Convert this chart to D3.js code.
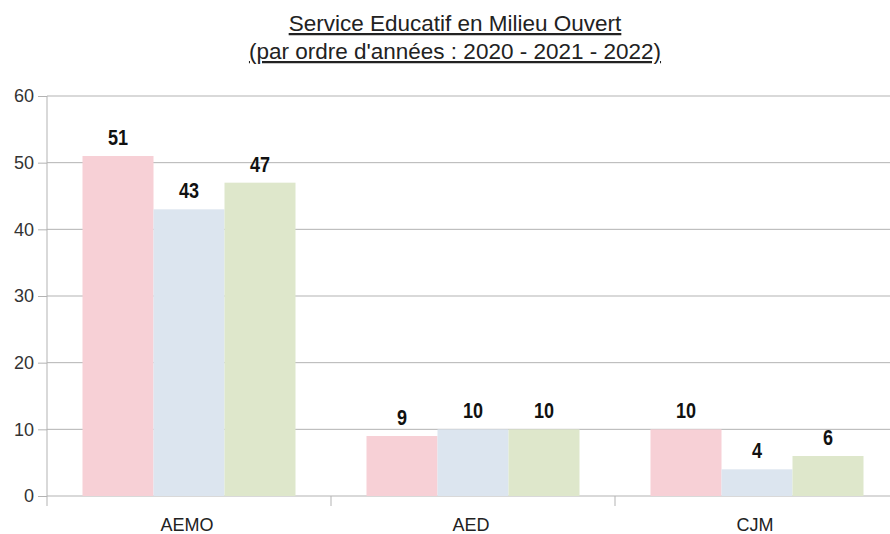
<!DOCTYPE html>
<html lang="fr">
<head>
  <meta charset="UTF-8">
  <title>Service Educatif en Milieu Ouvert</title>
  <style>
    body { margin: 0; background: #fff; }
    svg { font-family: 'Liberation Sans', Arial, sans-serif; }
  </style>
</head>
<body>
  <svg id="chart" width="890" height="534"></svg>
  <script src="https://cdn.jsdelivr.net/npm/d3@7/dist/d3.min.js"></script>
  <script>
    const categories = ['AEMO', 'AED', 'CJM']
    const years = ['2020', '2021', '2022']
    const values2020 = [51, 9, 10]
    const values2021 = [43, 10, 4]
    const values2022 = [47, 10, 6]
    const yTicks = [0, 10, 20, 30, 40, 50, 60]
    const colors = ['#f7d0d6', '#dce5ef', '#dee7cb']

    const series = [values2020, values2021, values2022]
    const svg = d3.select('#chart')
    const margin = { top: 96, left: 47, right: -9, bottom: 38 }
    const width = 890 - margin.left - margin.right
    const height = 534 - margin.top - margin.bottom

    const x = d3.scaleBand().domain(categories).range([0, width]).paddingInner(0).paddingOuter(0)
    const xInner = d3.scaleBand().domain(years).range([0, x.bandwidth()]).paddingOuter(0.5).paddingInner(0)
    const y = d3.scaleLinear().domain([0, 60]).range([height, 0])

    const g = svg.append('g').attr('transform', 'translate(' + [margin.left, margin.top] + ')')

    // grid
    g.selectAll('.grid')
      .data(yTicks)
      .enter().append('line')
      .attr('x1', 0).attr('x2', width)
      .attr('y1', d => y(d)).attr('y2', d => y(d))
      .attr('stroke', '#b3b3b3').attr('stroke-width', 1)

    // bars
    const rows = categories.map((c, i) => ({ cat: c, vals: series.map(s => s[i]) }))
    const grp = g.selectAll('.cat')
      .data(rows)
      .enter().append('g')
      .attr('transform', d => 'translate(' + x(d.cat) + ',0)')

    grp.selectAll('rect')
      .data(d => d.vals.map((v, j) => ({ v, year: years[j], j })))
      .enter().append('rect')
      .attr('x', d => xInner(d.year))
      .attr('width', xInner.bandwidth())
      .attr('y', d => y(d.v))
      .attr('height', d => y(0) - y(d.v))
      .attr('fill', d => colors[d.j])

    // value labels, squeezed to look like a narrow bold face
    grp.selectAll('.lbl')
      .data(d => d.vals.map((v, j) => ({ v, year: years[j] })))
      .enter().append('text')
      .attr('transform', d => 'translate(' + [xInner(d.year) + xInner.bandwidth() / 2, y(d.v) - 11] + ') scale(0.82,1)')
      .attr('text-anchor', 'middle')
      .style('font-size', '22px')
      .style('font-weight', 'bold')
      .attr('fill', '#111')
      .text(d => d.v)

    // axes
    const yAxis = g.append('g').call(d3.axisLeft(y).tickValues(yTicks).tickSize(9).tickPadding(4))
    yAxis.select('.domain').remove()
    yAxis.selectAll('line').attr('stroke', '#b3b3b3')
    yAxis.selectAll('text').style('font-size', '18px').attr('fill', '#333').attr('font-family', 'Liberation Sans, Arial, sans-serif')

    g.append('line')
      .attr('x1', 0).attr('x2', 0).attr('y1', 0).attr('y2', height + 10)
      .attr('stroke', '#b3b3b3')

    g.selectAll('.xtick')
      .data(categories.slice(1))
      .enter().append('line')
      .attr('x1', d => x(d)).attr('x2', d => x(d))
      .attr('y1', height).attr('y2', height + 10)
      .attr('stroke', '#b3b3b3')

    g.selectAll('.xlbl')
      .data(categories)
      .enter().append('text')
      .attr('x', d => x(d) + x.bandwidth() / 2 - 2)
      .attr('y', height + 35)
      .attr('text-anchor', 'middle')
      .style('font-size', '18px')
      .attr('fill', '#222')
      .text(d => d)

    // title
    const title = svg.append('text')
      .attr('text-anchor', 'middle')
      .style('font-size', '22.5px')
      .style('text-decoration', 'underline')
      .attr('fill', '#222')
    title.append('tspan').attr('x', 455).attr('y', 31).text('Service Educatif en Milieu Ouvert')
    title.append('tspan').attr('x', 455).attr('y', 59).text("(par ordre d'années : 2020 - 2021 - 2022)")
  </script>
</body>
</html>
